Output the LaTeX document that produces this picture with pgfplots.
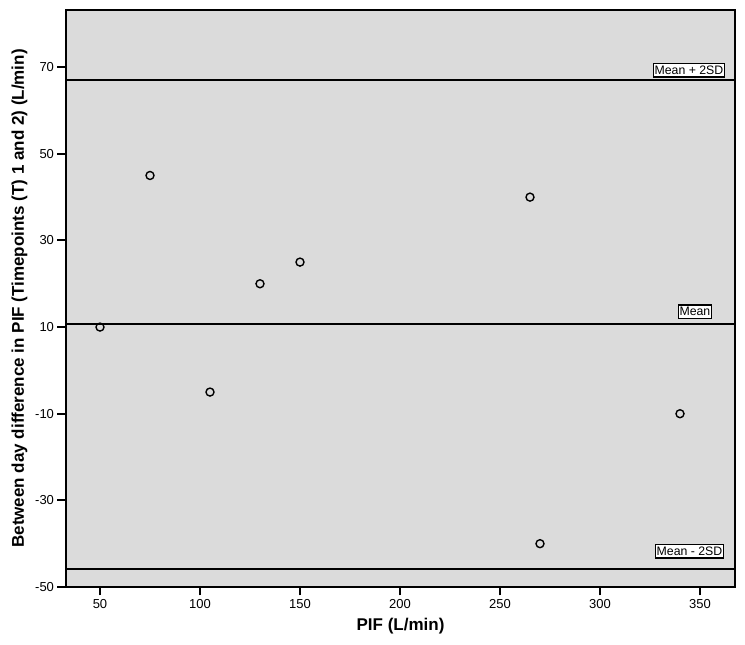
\documentclass[border=0pt]{standalone}
\usepackage{pgfplots}
\pgfplotsset{compat=1.18}
\usepackage{fontspec}
\setmainfont{Liberation Sans}
\definecolor{bg}{HTML}{DBDBDB}
\tikzset{labelbox/.style={anchor=south east, draw, fill=white, line width=1.4pt, inner xsep=1pt, inner ysep=2.5pt, font=\fontsize{12.3}{14}\selectfont}}
\begin{document}
\begin{tikzpicture}
\begin{axis}[
  scale only axis,
  width=669pt, height=577pt,
  xmin=33, xmax=367.5,
  ymin=-50, ymax=83.2,
  xtick={50,100,...,350},
  ytick={-50,-30,-10,10,30,50,70},
  minor tick num=0,
  tick align=outside,
  tick pos=left,
  major tick length=8.5pt,
  every tick/.append style={black, line width=2pt},
  axis line style={line width=1.4pt},
  axis background/.style={fill=bg},
  /pgf/number format/assume math mode=true,
  tick label style={font=\fontsize{13}{15}\selectfont},
  xlabel={\bfseries PIF (L/min)},
  ylabel={\bfseries Between day difference in PIF (Timepoints (T) 1 and 2) (L/min)},
  label style={font=\fontsize{17}{20}\selectfont},
  xlabel style={yshift=-3pt},
  ylabel style={yshift=1pt},
  clip=false,
]
\addplot[black, line width=1.8pt] coordinates {(33,67.05) (367.5,67.05)};
\addplot[black, line width=1.8pt] coordinates {(33,10.625) (367.5,10.625)};
\addplot[black, line width=1.8pt] coordinates {(33,-45.8) (367.5,-45.8)};
\addplot[only marks, mark=o, mark size=4pt, mark options={line width=1.4pt, black}] coordinates {
(50,10) (75,45) (105,-5) (130,20) (150,25) (265,40) (270,-40) (340,-10)};
\node[labelbox] at (axis cs:362.5,67.55) {Mean + 2SD};
\node[labelbox] at (axis cs:356,11.8) {Mean};
\node[labelbox] at (axis cs:362,-43.5) {Mean - 2SD};
\end{axis}
\path ([shift={(-66pt,-58pt)}]current axis.south west) rectangle ([shift={(10pt,10pt)}]current axis.north east);
\end{tikzpicture}
\end{document}
